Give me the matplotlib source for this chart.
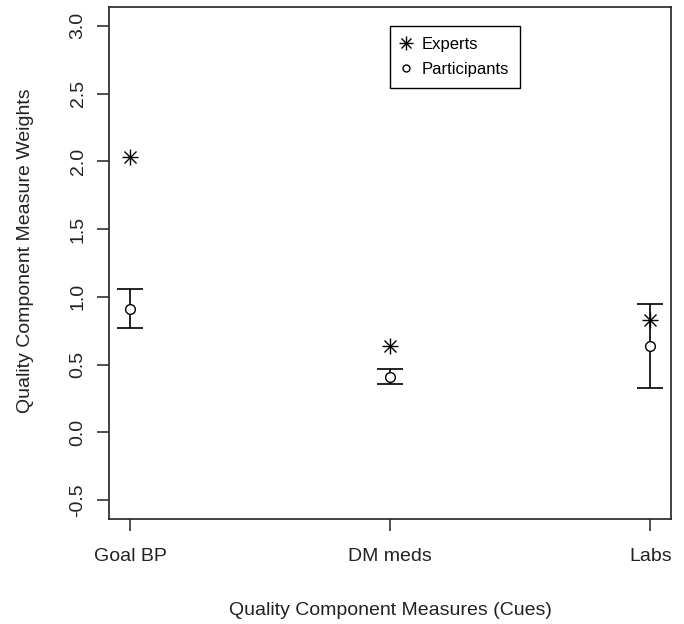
import matplotlib
matplotlib.use("Agg")
import matplotlib.pyplot as plt
from matplotlib.lines import Line2D
from matplotlib.legend_handler import HandlerTuple

plt.rcParams['font.family'] = ['Liberation Sans', 'DejaVu Sans']

cues = ["Goal BP", "DM meds", "Labs"]
experts = [2.03, 0.64, 0.83]
participants = [0.91, 0.41, 0.64]
ci_lower = [0.77, 0.36, 0.33]
ci_upper = [1.06, 0.47, 0.95]
yticks = [-0.5, 0.0, 0.5, 1.0, 1.5, 2.0, 2.5, 3.0]

fig = plt.figure(figsize=(6.84, 6.24), dpi=100)
ax = fig.add_axes([0.160, 0.168, 0.821, 0.821])

x = [1, 2, 3]
yerr = [[p - l for p, l in zip(participants, ci_lower)],
        [u - p for p, u in zip(participants, ci_upper)]]
ax.errorbar(x, participants, yerr=yerr, fmt='none', ecolor='black',
            elinewidth=1.2, capsize=9.5, capthick=1.2)
ax.plot(x, participants, linestyle='none', marker='o', markersize=7,
        markerfacecolor='white', markeredgecolor='black', markeredgewidth=1.0)
ax.plot(x, experts, linestyle='none', marker='+', markersize=11,
        markeredgecolor='black', markeredgewidth=1.0)
ax.plot(x, experts, linestyle='none', marker='x', markersize=8,
        markeredgecolor='black', markeredgewidth=1.0)

ax.set_xlim(0.92, 3.08)
ax.set_ylim(-0.64, 3.14)
ax.set_xticks(x)
ax.set_xticklabels(cues)
ax.set_yticks(yticks)
ax.set_yticklabels([f"{v:.1f}" for v in yticks], rotation=90, va='center')
ax.tick_params(axis='both', direction='out', length=8.5, width=1.1,
               labelsize=14, colors='#222222', labelcolor='#222222')
ax.tick_params(axis='x', pad=12)
ax.tick_params(axis='y', pad=8)
for s in ax.spines.values():
    s.set_linewidth(1.2)
    s.set_color('#222222')

ax.set_xlabel("Quality Component Measures (Cues)", fontsize=14, labelpad=27,
              color='#222222')
ax.set_ylabel("Quality Component Measure Weights", fontsize=14,
              color='#222222')
ax.yaxis.set_label_coords(-0.135, 0.525)

h_exp = (Line2D([], [], linestyle='none', marker='+', markersize=10,
                markeredgecolor='black', markeredgewidth=1.0),
         Line2D([], [], linestyle='none', marker='x', markersize=7,
                markeredgecolor='black', markeredgewidth=1.0))
h_par = Line2D([], [], linestyle='none', marker='o', markersize=5,
               markerfacecolor='white', markeredgecolor='black', markeredgewidth=1.0)
leg = ax.legend([h_exp, h_par], ["Experts", "Participants"],
                handler_map={tuple: HandlerTuple(ndivide=1)},
                loc='upper left', bbox_to_anchor=(0.499, 0.962),
                fontsize=12, frameon=True, fancybox=False, framealpha=1,
                edgecolor='black', handlelength=0.7, handletextpad=0.55,
                borderpad=0.65, labelspacing=0.6, borderaxespad=0)
leg.get_frame().set_linewidth(1.0)

fig.savefig("out.png", dpi=100)
